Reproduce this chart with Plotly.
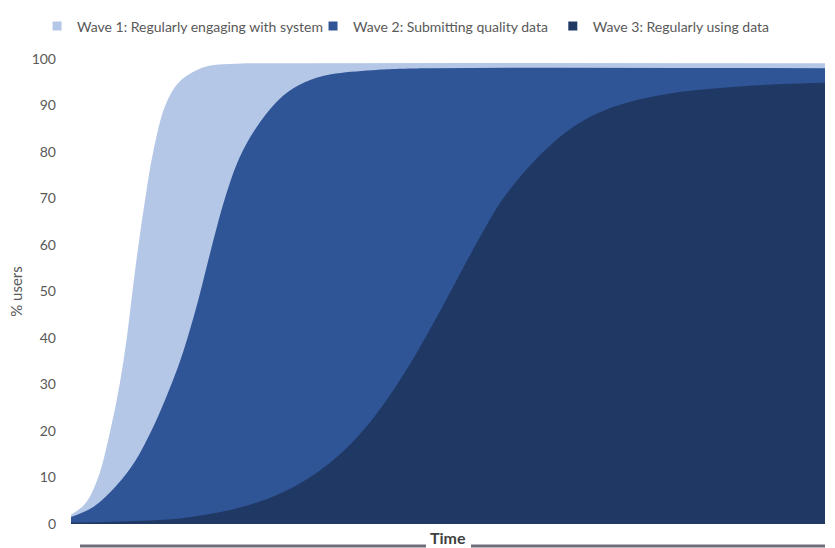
import plotly.graph_objects as go

# ---- data ----
wave1_t = [0, 1.9, 3.6, 5.2, 6.45, 7.4, 8.15, 8.95, 9.85, 10.9, 12.5, 14.3, 16.5, 18.5, 22, 30, 100]
wave1_v = [2, 4.4, 10, 20, 30, 40, 50, 60, 70, 80, 90, 95, 97.5, 98.6, 99.0, 99.1, 99.1]

wave2_t = [0, 3, 6, 8.5, 10.5, 12.5, 14.2, 15.6, 16.9, 18.1, 19.3, 20.6, 22.0, 23.7, 25.8, 28.2, 31.0, 34.5, 40, 47, 100]
wave2_v = [1.5, 3.7, 8.2, 13.5, 19.5, 26.8, 33.8, 40.8, 48.3, 56.0, 63.6, 71.0, 77.5, 83.0, 88.0, 92.2, 95.0, 96.7, 97.6, 98.0, 98.0]

wave3_t = [0, 7.8, 14.5, 21.1, 26, 30, 33, 36, 39, 42, 45, 48, 51, 54, 57, 60, 63, 66, 69, 72.5, 76, 81.2, 87.8, 94.4, 100]
wave3_v = [0.3, 0.6, 1.2, 3.0, 5.4, 8.4, 11.5, 15.5, 20.6, 27.0, 34.5, 43.0, 52.0, 61.0, 69.3, 75.5, 80.6, 84.7, 87.7, 90.0, 91.5, 93.0, 94.0, 94.6, 94.9]

names = ["Wave 1: Regularly engaging with system",
         "Wave 2: Submitting quality data",
         "Wave 3: Regularly using data"]
colors = ["#B4C7E7", "#2F5597", "#203864"]
y_ticks = [0, 10, 20, 30, 40, 50, 60, 70, 80, 90, 100]

FONT = "Lato"
GREY = "#595959"

fig = go.Figure()
series = [(wave1_t, wave1_v), (wave2_t, wave2_v), (wave3_t, wave3_v)]
for (t, v), c, n in zip(series, colors, names):
    fig.add_trace(go.Scatter(
        x=t, y=v, mode="lines", fill="tozeroy", fillcolor=c,
        line=dict(color=c, width=0, shape="spline", smoothing=1.0),
        name=n, showlegend=False, hoverinfo="skip"))

# legend entries (square swatches), each in its own legend for placement
legend_ids = ["legend", "legend2", "legend3"]
for c, n, lid in zip(colors, names, legend_ids):
    fig.add_trace(go.Scatter(
        x=[None], y=[None], mode="markers",
        marker=dict(symbol="square", size=9, color=c),
        name=n, legend=lid, showlegend=True))

leg_common = dict(orientation="h", yanchor="middle", y=1.07, xanchor="left",
                  font=dict(family=FONT, size=14, color=GREY),
                  bgcolor="rgba(0,0,0,0)", borderwidth=0, itemwidth=30)

fig.update_layout(
    width=835, height=548,
    margin=dict(l=71, r=10, t=51, b=24),
    paper_bgcolor="white", plot_bgcolor="white",
    font=dict(family=FONT, color=GREY),
    legend=dict(leg_common, x=-0.045),
    legend2=dict(leg_common, x=0.321),
    legend3=dict(leg_common, x=0.639),
    xaxis=dict(range=[0, 100], showgrid=False, zeroline=False, showline=False,
               showticklabels=False, ticks=""),
    yaxis=dict(range=[0, 100], tickvals=y_ticks, showgrid=False, zeroline=False,
               showline=False, ticks="", ticklabelstandoff=14,
               tickfont=dict(family=FONT, size=14, color=GREY),
               title=dict(text="% users", standoff=5,
                          font=dict(family=FONT, size=15, color=GREY))),
)

# x-axis caption with rules on either side
fig.add_annotation(text="<b>Time</b>", xref="paper", yref="paper",
                   x=(448 - 71) / 754, y=-(538 - 524) / 473, xanchor="center", yanchor="middle",
                   showarrow=False, font=dict(family=FONT, size=16, color="#404040"))
rule_y = -(546.5 - 524) / 473
for x0, x1 in [((80 - 71) / 754, (426 - 71) / 754), ((471 - 71) / 754, 1.0)]:
    fig.add_shape(type="line", xref="paper", yref="paper", x0=x0, x1=x1,
                  y0=rule_y, y1=rule_y, line=dict(color="#6E6E7A", width=3))

fig.write_html("out.html")
